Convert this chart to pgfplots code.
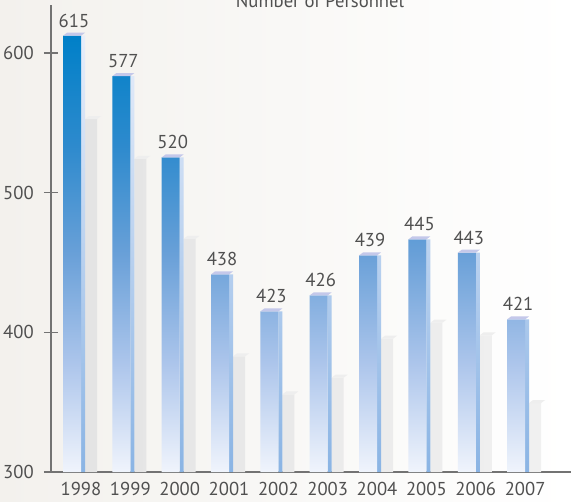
\documentclass[border=0pt]{standalone}
\usepackage{fontspec}
\setmainfont{PT Sans}
\usepackage{pgfplots}
\pgfplotsset{compat=1.18}

% 1 px of the reference = 0.75pt
\definecolor{axisgray}{RGB}{115,115,115}
\definecolor{txtgray}{RGB}{80,80,80}
\definecolor{bluetop}{RGB}{0,128,200}
\definecolor{blueb}{RGB}{45,138,205}
\definecolor{bluemid}{RGB}{105,160,216}
\definecolor{bluec}{RGB}{172,197,235}
\definecolor{bluebot}{RGB}{240,244,252}
\definecolor{sidetop}{RGB}{232,238,250}
\definecolor{sidebot}{RGB}{138,180,228}
\definecolor{capcol}{RGB}{196,200,234}
\definecolor{shadl}{RGB}{228,228,228}
\definecolor{shadr}{RGB}{240,240,240}
\definecolor{shcap}{RGB}{238,238,238}
\definecolor{bgl}{RGB}{243,241,237}

% front bar gradient: the shaded path spans 25bp..75bp
\pgfdeclareverticalshading{barblue}{100bp}{%
  color(0bp)=(bluebot); color(25bp)=(bluebot); color(37.5bp)=(bluec);
  color(50bp)=(bluemid); color(62.5bp)=(blueb); color(75bp)=(bluetop);
  color(100bp)=(bluetop)}

% top face of the front bars and of the shadow bars
\pgfdeclareplotmark{fcap}{%
  \pgfpathmoveto{\pgfqpoint{-13.5pt}{0pt}}%
  \pgfpathlineto{\pgfqpoint{-10.5pt}{2.25pt}}%
  \pgfpathlineto{\pgfqpoint{3pt}{2.25pt}}%
  \pgfpathlineto{\pgfqpoint{0pt}{0pt}}%
  \pgfpathclose\pgfusepath{fill}}
\pgfdeclareplotmark{scap}{%
  \pgfpathmoveto{\pgfqpoint{3pt}{0pt}}%
  \pgfpathlineto{\pgfqpoint{6pt}{2.25pt}}%
  \pgfpathlineto{\pgfqpoint{15pt}{2.25pt}}%
  \pgfpathlineto{\pgfqpoint{12pt}{0pt}}%
  \pgfpathclose\pgfusepath{fill}}

\begin{document}
\begin{tikzpicture}
\fill[left color=bgl, right color=white] (-38.25pt,-21.75pt) rectangle (390pt,354pt);
\begin{axis}[
    at={(0,0)}, anchor=south west,
    scale only axis, width=390pt, height=350.25pt,
    xmin=-0.608, xmax=9.93,
    ymin=300, ymax=634.4,
    y coord trafo/.code={\pgfmathparse{#1-300}},
    y coord inv trafo/.code={\pgfmathparse{#1+300}},
    axis x line*=bottom, axis y line*=left,
    axis line style={axisgray, line width=1pt},
    xtick={0,...,9},
    xticklabels={1998,1999,2000,2001,2002,2003,2004,2005,2006,2007},
    xtick style={draw=none},
    ytick={300,400,500,600},
    ytick style={axisgray, line width=1pt},
    tick align=center, major tick length=10.5pt,
    /pgf/number format/assume math mode=true,
    ticklabel style={font=\fontsize{14}{16}\selectfont, text=txtgray, inner sep=0pt},
    xticklabel style={yshift=-2.5pt},
    yticklabel style={xshift=-7.5pt},
    clip=true,
]
% shadow bars
\addplot[ybar, bar width=9pt, bar shift=7.5pt, draw=none, left color=shadl, right color=shadr]
  coordinates {(0,552.7) (1,524.3) (2,467) (3,382.8) (4,355.6) (5,367.6) (6,395.5) (7,406.9) (8,397.9) (9,349.4)};
\addplot[only marks, mark=scap, mark options={fill=shcap, draw=none}]
  coordinates {(0,552.7) (1,524.3) (2,467) (3,382.8) (4,355.6) (5,367.6) (6,395.5) (7,406.9) (8,397.9) (9,349.4)};
% side face of the front bars
\addplot[ybar, bar width=3pt, bar shift=1.5pt, draw=none, top color=sidetop, bottom color=sidebot]
  coordinates {(0,612.4) (1,583.5) (2,525.3) (3,441.5) (4,415) (5,426.5) (6,455.1) (7,466.6) (8,457) (9,409.3)};
% front bars
\addplot[ybar, bar width=13.5pt, bar shift=-6.75pt, draw=none, shading=barblue]
  coordinates {(0,612.4) (1,583.5) (2,525.3) (3,441.5) (4,415) (5,426.5) (6,455.1) (7,466.6) (8,457) (9,409.3)};
\addplot[only marks, mark=fcap, mark options={fill=capcol, draw=none},
    point meta=explicit symbolic, nodes near coords,
    nodes near coords style={font=\fontsize{14}{16}\selectfont, text=txtgray,
      anchor=base, inner sep=0pt, xshift=-5.25pt, yshift=6.5pt}]
  coordinates {(0,612.4) [615] (1,583.5) [577] (2,525.3) [520] (3,441.5) [438] (4,415) [423]
               (5,426.5) [426] (6,455.1) [439] (7,466.6) [445] (8,457) [443] (9,409.3) [421]};
\end{axis}
\node[anchor=base, font=\fontsize{14}{16}\selectfont, text=txtgray] at (201.75pt,348pt) {Number of Personnel};
\pgfresetboundingbox
\useasboundingbox (-38.25pt,-21.75pt) rectangle (390pt,354pt);
\end{tikzpicture}
\end{document}
